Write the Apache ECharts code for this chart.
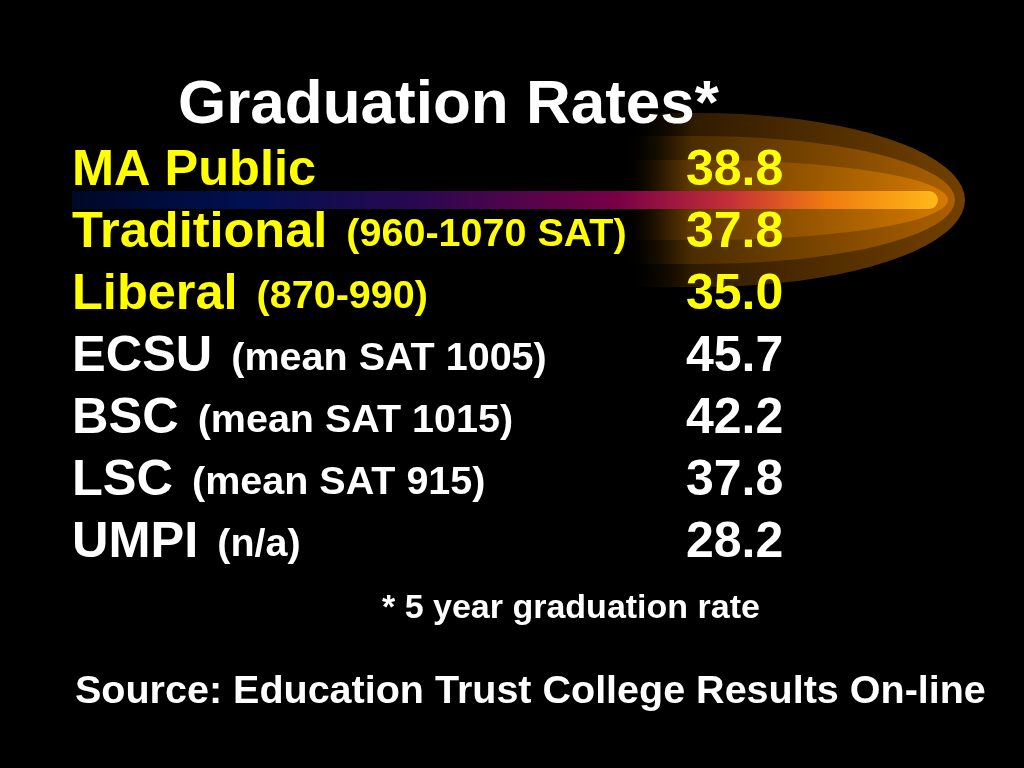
<!DOCTYPE html>
<html>
<head>
<meta charset="UTF-8">
<title>Graduation Rates</title>
<script src="https://cdn.jsdelivr.net/npm/echarts@6/dist/echarts.min.js"></script>
<style>
  html, body { margin: 0; padding: 0; background: #000; }
  #chart { width: 1024px; height: 768px; }
</style>
</head>
<body>
<div id="chart"></div>
<script type="text/javascript">
// rows of the table
var schools = ['MA Public', 'Traditional', 'Liberal', 'ECSU', 'BSC', 'LSC', 'UMPI'];
var notes = ['', '(960-1070 SAT)', '(870-990)', '(mean SAT 1005)', '(mean SAT 1015)', '(mean SAT 915)', '(n/a)'];
var rates = [38.8, 37.8, 35.0, 45.7, 42.2, 37.8, 28.2];
var highlighted = [true, true, true, false, false, false, false];

var FONT = '"Liberation Sans", Arial, sans-serif';

// the orange comet glow behind the first row (decoration only)
function glowPoints(x0, cx, rx, ry, cy) {
  var pts = [[x0, cy - ry], [cx, cy - ry]];
  for (var k = 1; k < 40; k++) {
    var a = -Math.PI / 2 + Math.PI * k / 40;
    pts.push([cx + rx * Math.cos(a), cy + ry * Math.sin(a)]);
  }
  pts.push([cx, cy + ry], [x0, cy + ry]);
  return pts;
}
function fade(c1, c2, at) {
  return {
    type: 'linear', x: 0, y: 0, x2: 1, y2: 0,
    colorStops: [
      { offset: 0, color: 'rgba(0,0,0,0)' },
      { offset: at, color: c1 },
      { offset: 1, color: c2 }
    ]
  };
}

var chart = echarts.init(document.getElementById('chart'));

var option = {
  backgroundColor: '#000',
  animation: false,
  title: [
    { text: 'Graduation Rates*', left: 173, top: 70,
      textStyle: { color: '#fff', fontFamily: FONT, fontWeight: 'bold', fontSize: 62, lineHeight: 62 } },
    { text: '* 5 year graduation rate', left: 377, top: 587,
      textStyle: { color: '#fff', fontFamily: FONT, fontWeight: 'bold', fontSize: 34, lineHeight: 34 } },
    { text: 'Source: Education Trust College Results On-line', left: 70, top: 667,
      textStyle: { color: '#fff', fontFamily: FONT, fontWeight: 'bold', fontSize: 39.5, lineHeight: 40 } }
  ],
  graphic: [
    { type: 'polygon', z: -10, shape: { points: glowPoints(625, 700, 265, 87, 200) },
      style: { fill: fade('#301b00', '#724000', 0.2) } },
    { type: 'polygon', z: -9, shape: { points: glowPoints(625, 700, 255, 64, 200) },
      style: { fill: fade('#4a2c00', '#ac6000', 0.2) } },
    { type: 'polygon', z: -8, shape: { points: glowPoints(625, 700, 248, 40, 200) },
      style: { fill: fade('#603800', '#d67a00', 0.2) } },
    { type: 'rect', z: -7, shape: { x: 72, y: 191, width: 866, height: 18, r: [0, 9, 9, 0] },
      style: { fill: {
        type: 'linear', x: 0, y: 0, x2: 1, y2: 0,
        colorStops: [
          { offset: 0, color: '#000828' },
          { offset: 0.2, color: '#001050' },
          { offset: 0.4, color: '#2a0850' },
          { offset: 0.63, color: '#780046' },
          { offset: 0.76, color: '#c43038' },
          { offset: 0.87, color: '#f07a10' },
          { offset: 1, color: '#ffb818' }
        ]
      } } }
  ],
  grid: { left: 72, right: 338, top: 140, bottom: 194 },
  xAxis: { type: 'value', min: 0, max: 1, show: false },
  yAxis: { type: 'category', data: schools, inverse: true, show: false },
  series: [
    {
      name: 'school',
      type: 'scatter',
      symbolSize: 0,
      itemStyle: { opacity: 1 },
      data: schools.map(function (s, i) {
        var c = highlighted[i] ? '#ffff00' : '#ffffff';
        return {
          value: [0, i],
          label: { rich: {
            m: { color: c, fontFamily: FONT, fontWeight: 'bold', fontSize: 50.5, lineHeight: 50 },
            s: { color: c, fontFamily: FONT, fontWeight: 'bold', fontSize: 39.5, lineHeight: 50, verticalAlign: 'bottom', padding: [0, 0, 3, 5] }
          } }
        };
      }),
      label: {
        show: true,
        position: 'right',
        distance: 0,
        formatter: function (p) {
          var n = notes[p.dataIndex];
          return '{m|' + schools[p.dataIndex] + (n ? ' ' : '') + '}' + (n ? '{s|' + n + '}' : '');
        }
      }
    },
    {
      name: 'rate',
      type: 'scatter',
      symbolSize: 0,
      itemStyle: { opacity: 1 },
      data: rates.map(function (r, i) {
        return {
          value: [1, i],
          label: { color: highlighted[i] ? '#ffff00' : '#ffffff' }
        };
      }),
      label: {
        show: true,
        position: 'right',
        distance: 0,
        fontFamily: FONT,
        fontWeight: 'bold',
        fontSize: 50,
        lineHeight: 50,
        formatter: function (p) { return rates[p.dataIndex].toFixed(1); }
      }
    }
  ]
};

chart.setOption(option);
</script>
</body>
</html>
